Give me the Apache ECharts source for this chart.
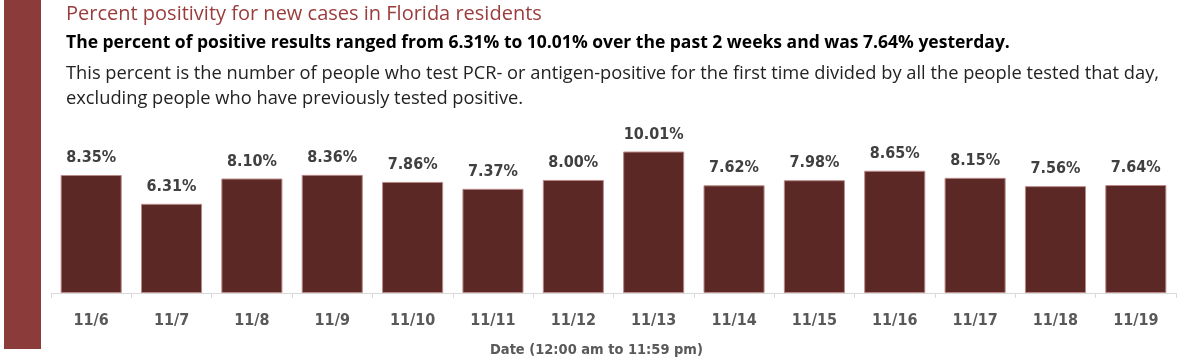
<!DOCTYPE html>
<html><head><meta charset="utf-8">
<script src="https://cdn.jsdelivr.net/npm/echarts@6/dist/echarts.min.js"></script>
<style>html,body{margin:0;padding:0;background:#fff}#c{width:1200px;height:361px}</style>
</head><body><div id="c"></div>
<script>
const categories = ['11/6','11/7','11/8','11/9','11/10','11/11','11/12','11/13','11/14','11/15','11/16','11/17','11/18','11/19'];
const positivity = [8.35, 6.31, 8.10, 8.36, 7.86, 7.37, 8.00, 10.01, 7.62, 7.98, 8.65, 8.15, 7.56, 7.64];
const titleText = 'Percent positivity for new cases in Florida residents';
const summaryText = 'The percent of positive results ranged from 6.31% to 10.01% over the past 2 weeks and was 7.64% yesterday.';
const noteLine1 = 'This percent is the number of people who test PCR- or antigen-positive for the first time divided by all the people tested that day,';
const noteLine2 = 'excluding people who have previously tested positive.';
const xAxisName = 'Date (12:00 am to 11:59 pm)';

const narrow = '"DejaVu Sans Condensed", "Liberation Sans Narrow", sans-serif';
const wide = '"Open Sans", "Liberation Sans", sans-serif';
const chart = echarts.init(document.getElementById('c'));
chart.setOption({
  animation: false,
  graphic: [
    {type:'rect', left:4, top:0, shape:{width:37, height:349}, style:{fill:'#8c3b3b'}},
    {type:'text', left:66, top:4, style:{text:titleText, font:'20px ' + wide, fill:'#9b3c3c'}},
    {type:'text', left:66, top:34, style:{text:summaryText, font:'bold 17.5px ' + wide, fill:'#000'}},
    {type:'text', left:66, top:65, style:{text:noteLine1, font:'18.3px ' + wide, fill:'#222'}},
    {type:'text', left:66, top:90, style:{text:noteLine2, font:'18.3px ' + wide, fill:'#222'}},
    {type:'text', left:490, top:343, style:{text:xAxisName, font:'bold 14.5px ' + narrow, fill:'#595959'}}
  ],
  grid: {left:51, right:24, top:123.4, bottom:68},
  xAxis: {
    type:'category', data:categories,
    axisLine:{lineStyle:{color:'#d9d9d9', width:1}},
    axisTick:{show:true, length:5, lineStyle:{color:'#d9d9d9'}},
    axisLabel:{color:'#595959', fontSize:16, fontFamily:narrow, fontWeight:'bold', margin:20}
  },
  yAxis: {type:'value', min:0, max:12, show:false, splitLine:{show:false}},
  series: [{
    type:'bar', data:positivity, barCategoryGap:'24%',
    itemStyle:{color:'#5c2825', borderColor:'#b98a88', borderWidth:1},
    label:{show:true, position:'top', distance:9, color:'#404040', fontSize:16, fontWeight:'bold', fontFamily:narrow,
      formatter: p => p.value.toFixed(2) + '%'}
  }]
});
</script></body></html>
